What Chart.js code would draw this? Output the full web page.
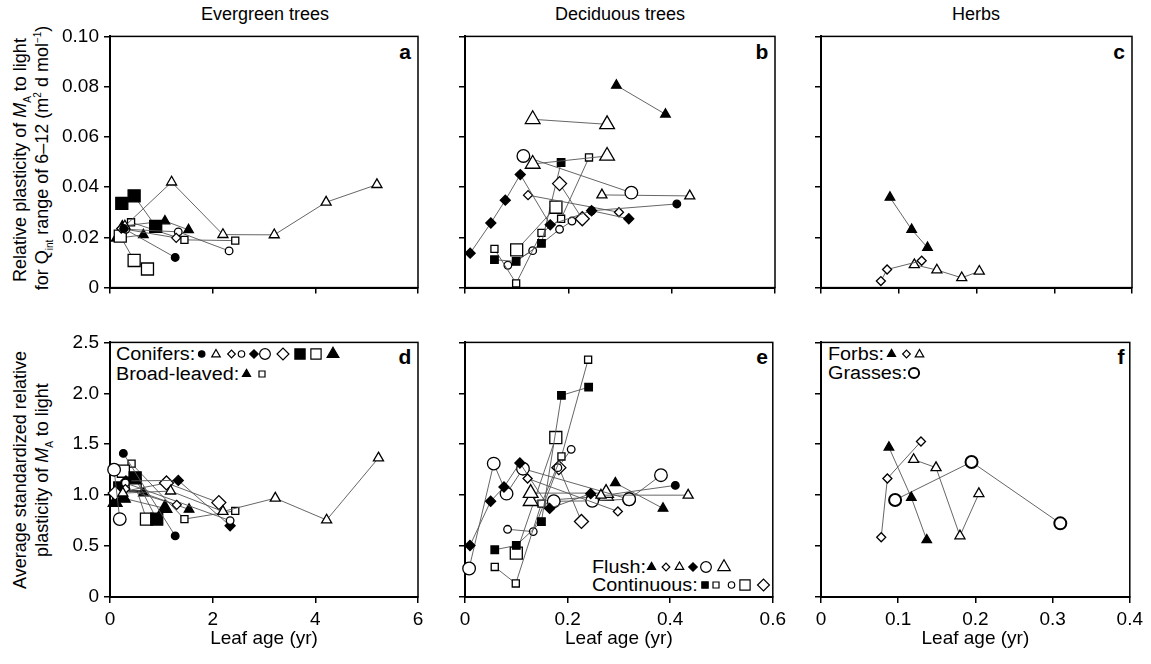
<!DOCTYPE html>
<html>
<head>
<meta charset="utf-8">
<script src="https://cdn.jsdelivr.net/npm/chart.js@4.4.1/dist/chart.umd.min.js"></script>
<style>
body { margin: 0; background: #fff; width: 1151px; height: 664px; position: relative; overflow: hidden;
       font-family: "Liberation Sans", Arial, sans-serif; color: #000; }
canvas { position: absolute; }
.t { position: absolute; white-space: nowrap; font-size: 18px; line-height: 1; }
.ctr { transform: translate(-50%, -50%); }
.leg { transform: translateY(-50%) scaleX(1.1); transform-origin: left center; }
.rot { transform: translate(-50%, -50%) rotate(-90deg); }
.let { font-weight: bold; font-size: 21px; transform: translate(-50%, -50%); }
sub, sup { font-size: 10px; line-height: 0; }
</style>
</head>
<body>

<div class="t ctr" style="left:265px; top:14px;">Evergreen trees</div>
<div class="t ctr" style="left:620px; top:14px;">Deciduous trees</div>
<div class="t ctr" style="left:976px; top:14px;">Herbs</div>

<div class="t rot" style="left:20px; top:160px;">Relative plasticity of <i>M</i><sub>A</sub> to light</div>
<div class="t rot" style="left:42px; top:158px;">for Q<sub>int</sub> range of 6&ndash;12 (m<sup>2</sup> d mol<sup>&minus;1</sup>)</div>
<div class="t rot" style="left:20px; top:470px;">Average standardized relative</div>
<div class="t rot" style="left:42px; top:470px;">plasticity of <i>M</i><sub>A</sub> to light</div>

<div class="t let" style="left:405px; top:51px;">a</div>
<div class="t let" style="left:762px; top:51px;">b</div>
<div class="t let" style="left:1119px; top:51px;">c</div>
<div class="t let" style="left:405px; top:356px;">d</div>
<div class="t let" style="left:762px; top:356px;">e</div>
<div class="t let" style="left:1121px; top:356px;">f</div>

<div class="t leg" style="left:116px; top:354px;">Conifers:</div>
<div class="t leg" style="left:116px; top:374px;">Broad-leaved:</div>
<div class="t leg" style="left:592px; top:567px;">Flush:</div>
<div class="t leg" style="left:592px; top:585px;">Continuous:</div>
<div class="t leg" style="left:828px; top:354px;">Forbs:</div>
<div class="t leg" style="left:828px; top:373px;">Grasses:</div>

<script>
"use strict";

// tick values
var evergreenTicks = [0, 2, 4, 6];
var deciduousTicks = [0, 0.2, 0.4, 0.6];
var herbTicks = [0, 0.1, 0.2, 0.3, 0.4];
var plasticityTicks = [0, 0.02, 0.04, 0.06, 0.08, 0.10];
var standardTicks = [0, 0.5, 1.0, 1.5, 2.0, 2.5];

// a: evergreen, relative plasticity  [leaf age, plasticity]
var aFilledCircle = [[0.27, 0.0235], [1.27, 0.012]];
var aOpenTriangle = [[0.29, 0.0245], [1.2, 0.042], [2.2, 0.0211], [3.2, 0.021], [4.21, 0.034], [5.2, 0.041]];
var aOpenDiamond = [[0.22, 0.0235], [1.29, 0.0198]];
var aOpenCircle = [[0.31, 0.0232], [1.33, 0.0222], [2.32, 0.0146]];
var aBigFilledSquare = [[0.23, 0.0335], [0.47, 0.0365], [0.89, 0.0244]];
var aBigOpenSquare = [[0.2, 0.0205], [0.47, 0.0108], [0.73, 0.0074]];
var aFilledTriangle = [[0.12, 0.0196], [0.65, 0.021]];
var aFilledTriangle2 = [[0.24, 0.0245], [1.07, 0.0265], [1.53, 0.023]];
var aOpenSquare = [[0.41, 0.026], [1.45, 0.019], [2.44, 0.0187]];

// b: deciduous, relative plasticity
var bFilledTriangle = [[0.293, 0.0805], [0.388, 0.069]];
var bBigTriangleHigh = [[0.131, 0.067], [0.275, 0.065]];
var bBigTriangleMid = [[0.131, 0.0492], [0.275, 0.0524]];
var bBigCircle = [[0.113, 0.0524], [0.322, 0.0378]];
var bOpenTriangle = [[0.265, 0.0369], [0.435, 0.0365]];
var bFilledCircle = [[0.245, 0.0306], [0.41, 0.0333]];
var bFilledDiamond = [[0.01, 0.0137], [0.05, 0.0257], [0.078, 0.0348], [0.107, 0.045], [0.165, 0.025], [0.245, 0.0306], [0.317, 0.0274]];
var bOpenDiamond = [[0.122, 0.0368], [0.298, 0.030]];
var bBigDiamond = [[0.183, 0.0414], [0.227, 0.0274]];
var bBigOpenSquare = [[0.10, 0.015], [0.176, 0.032]];
var bOpenSquare = [[0.057, 0.0154], [0.099, 0.0017], [0.148, 0.0218], [0.186, 0.0274], [0.24, 0.0518]];
var bFilledSquare = [[0.057, 0.0111], [0.099, 0.0104], [0.148, 0.0176], [0.186, 0.0498]];
var bOpenCircle = [[0.083, 0.0089], [0.131, 0.0147], [0.183, 0.0232], [0.207, 0.0265]];

// c: herbs, relative plasticity
var cFilledTriangle = [[0.0887, 0.0359], [0.1166, 0.0231], [0.137, 0.0159]];
var cOpenDiamond = [[0.077, 0.0026], [0.085, 0.0072], [0.1295, 0.0107]];
var cOpenTriangle = [[0.12, 0.0091], [0.149, 0.007], [0.181, 0.0039], [0.2036, 0.0065]];

// d: evergreen, standardized plasticity
var dFilledCircle = [[0.26, 1.41], [1.27, 0.60]];
var dOpenTriangle = [[0.25, 1.02], [1.18, 1.04], [2.2, 0.84], [3.22, 0.97], [4.22, 0.756], [5.23, 1.365]];
var dOpenDiamond = [[0.3, 1.06], [1.3, 0.905]];
var dOpenCircle = [[0.3, 1.12], [2.34, 0.75]];
var dFilledDiamond = [[0.31, 1.14], [1.33, 1.145], [2.34, 0.70]];
var dBigCircle = [[0.08, 1.25], [0.19, 0.765]];
var dBigDiamond = [[0.1, 1.02], [1.1, 1.12], [2.12, 0.927]];
var dBigFilledSquare = [[0.19, 1.07], [0.49, 1.17], [0.91, 0.765]];
var dBigOpenSquare = [[0.26, 1.235], [0.49, 1.1], [0.71, 0.765]];
var dBigFilledTriangle = [[0.1, 0.93], [0.26, 0.97], [1.07, 0.87]];
var dFilledTriangle = [[0.65, 1.02], [1.54, 0.86]];
var dOpenSquare = [[0.42, 1.31], [1.45, 0.765], [2.44, 0.846]];

// e: deciduous, standardized plasticity
var eFilledTriangle = [[0.293, 1.12], [0.386, 0.87]];
var eOpenDiamond = [[0.122, 1.164], [0.298, 0.84]];
var eOpenTriangle = [[0.265, 1.0], [0.435, 1.0]];
var eFilledDiamond = [[0.0097, 0.506], [0.05, 0.94], [0.076, 1.08], [0.107, 1.316], [0.165, 0.87], [0.245, 1.015]];
var eBigCircle = [[0.008, 0.28], [0.056, 1.31], [0.081, 1.015], [0.113, 1.26], [0.32, 0.96]];
var eBigCircle2 = [[0.173, 0.94], [0.248, 0.944], [0.32, 0.96], [0.382, 1.196]];
var eBigTriangle = [[0.128, 1.02], [0.275, 1.02]];
var eBigTriangle2 = [[0.128, 0.94], [0.275, 0.99]];
var eFilledCircle = [[0.245, 0.98], [0.41, 1.096]];
var eFilledSquare = [[0.058, 0.464], [0.1, 0.506], [0.149, 0.74], [0.188, 1.98], [0.241, 2.06]];
var eOpenSquare = [[0.058, 0.295], [0.099, 0.133], [0.149, 0.917], [0.188, 1.38], [0.24, 2.33]];
var eOpenCircle = [[0.083, 0.665], [0.133, 0.642], [0.181, 1.27], [0.207, 1.45]];
var eBigOpenSquare = [[0.1, 0.43], [0.177, 1.566]];
var eBigDiamond = [[0.183, 1.27], [0.227, 0.742]];

// f: herbs, standardized plasticity
var fFilledTriangle = [[0.088, 1.47], [0.117, 0.976], [0.137, 0.56]];
var fOpenDiamond = [[0.078, 0.587], [0.086, 1.164], [0.1295, 1.527]];
var fOpenTriangle = [[0.12, 1.35], [0.149, 1.27], [0.18, 0.6], [0.2045, 1.015]];
var fGrassCircle = [[0.096, 0.953], [0.195, 1.326], [0.31, 0.723]];

// marker looks
var markers = {
    fc:  { style: 'circle', r: 3.8, fill: true },
    oc:  { style: 'circle', r: 3.8, fill: false },
    ocL: { style: 'circle', r: 6.3, fill: false },
    ocG: { style: 'circle', r: 6, fill: false, bw: 2 },
    ot:  { style: 'triangle', r: 5.8, fill: false },
    otL: { style: 'triangle', r: 8.5, fill: false },
    ft:  { style: 'triangle', r: 5.5, fill: true },
    ftL: { style: 'triangle', r: 8, fill: true },
    od:  { style: 'rectRot', r: 4.5, fill: false },
    odL: { style: 'rectRot', r: 7, fill: false },
    fd:  { style: 'rectRot', r: 5, fill: true },
    os:  { style: 'rect', r: 5, fill: false },
    fs:  { style: 'rect', r: 5.3, fill: true },
    osL: { style: 'rect', r: 8.5, fill: false },
    fsL: { style: 'rect', r: 8.5, fill: true }
};

var panels = [
    { left: 110, top: 34, w: 308, h: 256, xt: evergreenTicks, xd: 0, yt: plasticityTicks, yd: 2, xlab: false, ylab: true,
      series: [['fc', aFilledCircle], ['ot', aOpenTriangle], ['od', aOpenDiamond], ['oc', aOpenCircle],
               ['fsL', aBigFilledSquare], ['osL', aBigOpenSquare], ['ft', aFilledTriangle], ['ft', aFilledTriangle2],
               ['os', aOpenSquare]] },
    { left: 465, top: 34, w: 310, h: 256, xt: deciduousTicks, xd: 1, yt: plasticityTicks, yd: 2, xlab: false, ylab: false,
      series: [['ft', bFilledTriangle], ['otL', bBigTriangleHigh], ['otL', bBigTriangleMid], ['ocL', bBigCircle],
               ['ot', bOpenTriangle], ['fd', bFilledDiamond], ['fc', bFilledCircle], ['od', bOpenDiamond],
               ['odL', bBigDiamond], ['osL', bBigOpenSquare], ['fs', bFilledSquare], ['os', bOpenSquare],
               ['oc', bOpenCircle]] },
    { left: 821, top: 34, w: 311, h: 256, xt: herbTicks, xd: 1, yt: plasticityTicks, yd: 2, xlab: false, ylab: false,
      series: [['ft', cFilledTriangle], ['od', cOpenDiamond], ['ot', cOpenTriangle]] },
    { left: 110, top: 340, w: 308, h: 257, xt: evergreenTicks, xd: 0, yt: standardTicks, yd: 1, xlab: true, ylab: true,
      series: [['fc', dFilledCircle], ['ot', dOpenTriangle], ['od', dOpenDiamond], ['oc', dOpenCircle],
               ['fd', dFilledDiamond], ['ocL', dBigCircle], ['odL', dBigDiamond], ['fsL', dBigFilledSquare],
               ['osL', dBigOpenSquare], ['ftL', dBigFilledTriangle], ['ft', dFilledTriangle], ['os', dOpenSquare]],
      legend: [['fc', 201.7, 354], ['ot', 216, 354.5], ['od', 231.5, 354], ['oc', 241.5, 354], ['fd', 254, 354],
               ['ocL', 265, 354], ['odL', 283, 354], ['fsL', 300, 354], ['osL', 316, 354], ['ftL', 333, 354],
               ['ft', 246.5, 374], ['os', 262, 374]] },
    { left: 465, top: 340, w: 310, h: 257, xt: deciduousTicks, xd: 1, yt: standardTicks, yd: 1, xlab: true, ylab: false,
      series: [['ft', eFilledTriangle], ['od', eOpenDiamond], ['ot', eOpenTriangle], ['fd', eFilledDiamond],
               ['ocL', eBigCircle], ['ocL', eBigCircle2], ['otL', eBigTriangle], ['otL', eBigTriangle2],
               ['fc', eFilledCircle], ['fs', eFilledSquare], ['os', eOpenSquare], ['oc', eOpenCircle],
               ['osL', eBigOpenSquare], ['odL', eBigDiamond]],
      legend: [['ft', 651.5, 567], ['od', 666, 567], ['ot', 679.5, 567], ['fd', 693, 567], ['ocL', 706, 567], ['otL', 724, 567],
               ['fs', 705, 585], ['os', 716, 585], ['oc', 731.5, 585], ['osL', 745, 585], ['odL', 763.5, 585]] },
    { left: 821, top: 340, w: 311, h: 257, xt: herbTicks, xd: 1, yt: standardTicks, yd: 1, xlab: true, ylab: false,
      series: [['ft', fFilledTriangle], ['od', fOpenDiamond], ['ot', fOpenTriangle], ['ocG', fGrassCircle]],
      legend: [['ft', 891.5, 354], ['od', 906.5, 354], ['ot', 919.5, 354.5], ['ocG', 914, 373]] }
];

function fmt(v, d) {
    return v === 0 ? '0' : v.toFixed(d);
}

// frame round the plot area and the little legend markers
var framePlugin = {
    id: 'frame',
    beforeDatasetsDraw: function (chart) {
        var a = chart.chartArea, ctx = chart.ctx;
        ctx.save();
        ctx.strokeStyle = '#000';
        ctx.lineWidth = 1.5;
        ctx.strokeRect(a.left, a.top, a.right - a.left, a.bottom - a.top);
        ctx.restore();
    },
    afterDatasetsDraw: function (chart, args, opts) {
        if (!opts.marks) return;
        var ctx = chart.ctx;
        ctx.save();
        opts.marks.forEach(function (m) {
            var st = markers[m[0]];
            ctx.fillStyle = st.fill ? '#000' : '#fff';
            ctx.strokeStyle = '#000';
            ctx.lineWidth = st.bw || 1.2;
            Chart.helpers.drawPoint(ctx, { pointStyle: st.style, radius: st.r * 0.85, rotation: 0, borderWidth: st.bw || 1.2 },
                m[1] - opts.offX, m[2] - opts.offY);
        });
        ctx.restore();
    }
};

function makePanel(p) {
    var padL = 64, padT = 14, padR = 16, padB = p.xlab ? 58 : 14;
    var cv = document.createElement('canvas');
    cv.width = p.w + padL + padR;
    cv.height = p.h + padT + padB;
    cv.style.left = (p.left - padL) + 'px';
    cv.style.top = (p.top - padT) + 'px';
    document.body.appendChild(cv);

    var datasets = p.series.map(function (s) {
        var st = markers[s[0]];
        return {
            data: s[1].map(function (pt) { return { x: pt[0], y: pt[1] }; }),
            showLine: true,
            borderColor: '#555',
            borderWidth: 0.9,
            pointStyle: st.style,
            pointRadius: st.r,
            pointBackgroundColor: st.fill ? '#000' : '#fff',
            pointBorderColor: '#000',
            pointBorderWidth: st.bw || 1.3,
            clip: false
        };
    });

    var tickGrid = { drawOnChartArea: false, drawTicks: true, tickLength: 6, color: '#000', lineWidth: 1.5 };

    new Chart(cv, {
        type: 'scatter',
        data: { datasets: datasets },
        options: {
            responsive: false,
            animation: false,
            events: [],
            layout: { padding: { top: padT, right: padR, left: 0, bottom: 0 } },
            plugins: {
                legend: { display: false },
                tooltip: { enabled: false },
                frame: { marks: p.legend, offX: p.left - padL, offY: p.top - padT }
            },
            scales: {
                x: {
                    type: 'linear',
                    min: p.xt[0],
                    max: p.xt[p.xt.length - 1],
                    afterBuildTicks: function (s) { s.ticks = p.xt.map(function (v) { return { value: v }; }); },
                    afterFit: function (s) { s.height = padB; },
                    ticks: {
                        autoSkip: false, maxRotation: 0, padding: 5, color: '#000',
                        font: { family: 'Liberation Sans', size: 19 },
                        callback: function (v) { return p.xlab ? fmt(v, p.xd) : ''; }
                    },
                    grid: tickGrid,
                    border: { display: true, color: '#000', width: 2 },
                    title: {
                        display: p.xlab, text: 'Leaf age (yr)', color: '#000',
                        font: { family: 'Liberation Sans', size: 19 }, padding: { top: 0, bottom: 5 }
                    }
                },
                y: {
                    type: 'linear',
                    min: p.yt[0],
                    max: p.yt[p.yt.length - 1],
                    afterBuildTicks: function (s) { s.ticks = p.yt.map(function (v) { return { value: v }; }); },
                    afterFit: function (s) { s.width = padL; },
                    ticks: {
                        autoSkip: false, padding: 5, color: '#000',
                        font: { family: 'Liberation Sans', size: 19 },
                        callback: function (v) { return p.ylab ? fmt(v, p.yd) : ''; }
                    },
                    grid: tickGrid,
                    border: { display: true, color: '#000', width: 2 }
                }
            }
        },
        plugins: [framePlugin]
    });
}

panels.forEach(makePanel);
</script>
</body>
</html>
